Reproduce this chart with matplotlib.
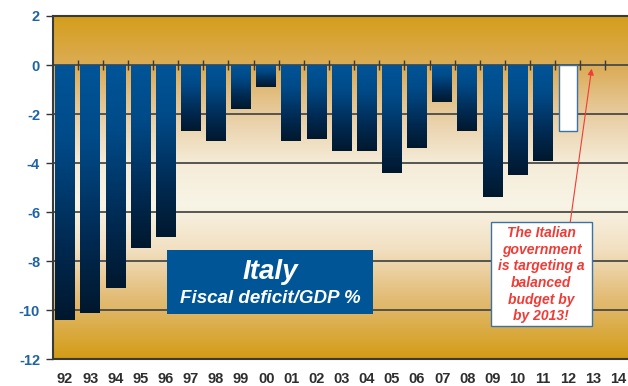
import numpy as np
import matplotlib.pyplot as plt
from matplotlib.colors import LinearSegmentedColormap
from matplotlib.patches import Rectangle

plt.rcParams['font.family'] = ['Liberation Sans', 'DejaVu Sans']

# Italian fiscal balance, % of GDP
years = ['92', '93', '94', '95', '96', '97', '98', '99', '00', '01', '02',
         '03', '04', '05', '06', '07', '08', '09', '10', '11', '12', '13', '14']
deficit = [-10.4, -10.1, -9.1, -7.45, -7.0, -2.7, -3.1, -1.8, -0.9, -3.1, -3.0,
           -3.5, -3.5, -4.4, -3.4, -1.5, -2.7, -5.4, -4.5, -3.9]
projection_year = '12'
projection = -2.7
target_year = '13'

y_ticks = [2, 0, -2, -4, -6, -8, -10, -12]

fig = plt.figure(figsize=(6.28, 3.86), dpi=100)
ax = fig.add_axes([52.5 / 628, 26.7 / 386, 578.1 / 628, 343.3 / 386])
ax.set_xlim(-0.5, len(years) - 0.5)
ax.set_ylim(-12, 2)

# gold -> cream -> gold background
bg_cmap = LinearSegmentedColormap.from_list('bg', [
    (0.0, '#d49e1a'), (0.16, '#dcae5c'), (0.3, '#e9cfa6'), (0.43, '#f5ecd8'),
    (0.55, '#f8f4e6'), (0.68, '#f2e0c2'), (0.82, '#e3bd78'), (1.0, '#d39c16')])
grad = np.linspace(0, 1, 256).reshape(-1, 1)
ax.imshow(grad, cmap=bg_cmap, aspect='auto', extent=(-0.5, len(years) - 0.5, -12, 2),
          zorder=0)

for yv in y_ticks[1:-1]:
    ax.axhline(yv, color='#4a4a48', lw=1.3, zorder=1)

# bars with a top-to-bottom blue gradient
bar_cmap = LinearSegmentedColormap.from_list('bar', [
    (0.0, '#005598'), (0.3, '#004a88'), (0.7, '#002a52'), (1.0, '#00182e')])
x = np.arange(len(deficit))
bars = ax.bar(x, deficit, width=0.78, color='none', edgecolor='none', zorder=2)
for b in bars:
    x0, y0 = b.get_x(), b.get_y()
    w, h = b.get_width(), b.get_height()
    im = ax.imshow(grad, cmap=bar_cmap, aspect='auto',
                   extent=(x0, x0 + w, y0 + h, y0), zorder=2)
    im.set_clip_path(b)

# 2012 projection as an empty bar
ax.bar(years.index(projection_year), projection, width=0.7, color='white',
       edgecolor='#3a72a8', lw=1, zorder=2)

# small category separators on the zero line
ax.vlines(np.arange(len(years) - 1) + 0.5, -0.2, 0.2, color='#3a3a36', lw=1, zorder=3)

ax.set_xticks(np.arange(len(years)))
ax.set_xticklabels(years, fontsize=10.5, fontweight='bold', color='#2e2e2e')
ax.tick_params(axis='x', length=0, pad=9)
ax.set_yticks(y_ticks)
ax.set_yticklabels([str(v) for v in y_ticks], fontsize=10.5, fontweight='bold',
                   color='#1f62a6')
ax.tick_params(axis='y', length=5, width=1, color='#333333', pad=4)

for side in ['left', 'top', 'bottom']:
    ax.spines[side].set_color('#3a3a36')
    ax.spines[side].set_linewidth(1.5)
    ax.spines[side].set_zorder(4)
ax.spines['right'].set_visible(False)

# title panel
ax.add_patch(Rectangle((4.06, -10.16), 8.19, 2.61, facecolor='#005596',
                       edgecolor='none', zorder=5))
ax.text(8.15, -8.44, 'Italy', color='white', fontsize=20, fontweight='bold',
        fontstyle='italic', ha='center', va='center', zorder=6)
ax.text(8.15, -9.54, 'Fiscal deficit/GDP %', color='white', fontsize=13.5,
        fontweight='bold', fontstyle='italic', ha='center', va='center', zorder=6)

# note on the balanced budget target
ax.add_patch(Rectangle((16.94, -10.64), 4.01, 4.24, facecolor='white',
                       edgecolor='#3a72a8', lw=1, zorder=5))
ax.text(18.95, -8.55, 'The Italian\ngovernment\nis targeting a\nbalanced\nbudget by\nby 2013!',
        color='#f03c36', fontsize=10, fontweight='bold', fontstyle='italic',
        ha='center', va='center', linespacing=1.24, zorder=6)
ax.annotate('', xy=(years.index(target_year) - 0.05, -0.15), xytext=(20.1, -6.4),
            arrowprops=dict(arrowstyle='-|>', color='#f03c36', lw=0.8,
                            mutation_scale=9, shrinkA=0, shrinkB=0),
            zorder=6)

fig.savefig('out.png', dpi=100)
